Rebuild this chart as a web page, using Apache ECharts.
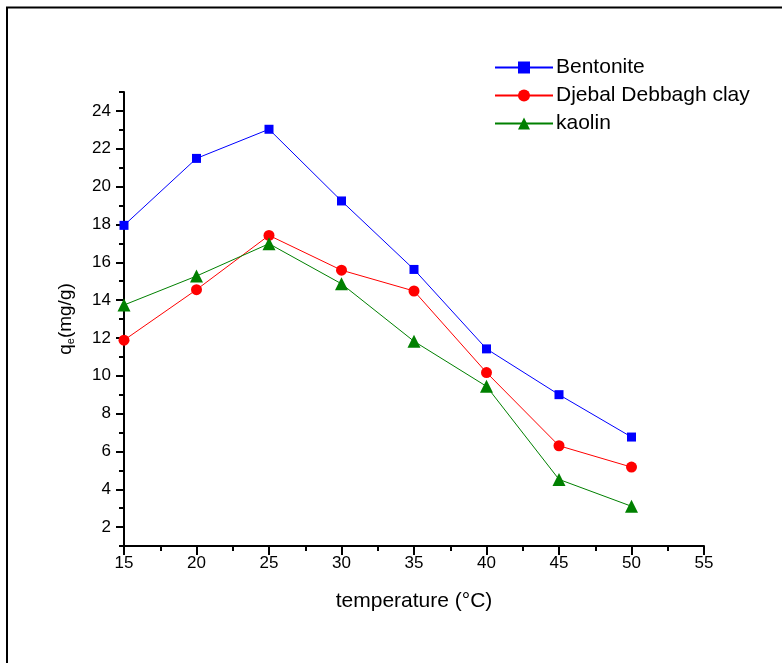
<!DOCTYPE html>
<html>
<head>
<meta charset="utf-8">
<script src="https://cdn.jsdelivr.net/npm/echarts@6/dist/echarts.min.js"></script>
<style>
  html, body { margin: 0; padding: 0; background: #fff; }
  #chartBox { width: 782px; height: 663px; }
</style>
</head>
<body>
<div id="chartBox"></div>
<script>
// temperature (°C)
const temperature = [15, 20, 25, 30, 35, 40, 45, 50]
// qe (mg/g)
const bentonite = [17.95, 21.49, 23.03, 19.24, 15.62, 11.42, 9.0, 6.76]
const djebal = [11.88, 14.55, 17.42, 15.58, 14.48, 10.17, 6.3, 5.17]
const kaolin = [13.74, 15.27, 16.98, 14.86, 11.82, 9.44, 4.52, 3.1]
// y tick labels (even) and minor ticks (odd)
const yMajor = [2, 4, 6, 8, 10, 12, 14, 16, 18, 20, 22, 24]
const yMinor = [1, 3, 5, 7, 9, 11, 13, 15, 17, 19, 21, 23, 25]

const font = 'Liberation Sans, Arial, sans-serif'
const pairs = arr => temperature.map((t, i) => [t, arr[i]])

let myChart = echarts.init(document.getElementById('chartBox'))
myChart.setOption({
  animation: false,
  backgroundColor: '#fff',
  graphic: [{
    type: 'rect',
    shape: { x: 7, y: 7.5, width: 900, height: 800 },
    style: { fill: 'none', stroke: '#000', lineWidth: 2 },
    silent: true
  }],
  grid: { left: 124, right: 78, top: 92, bottom: 117 },
  legend: {
    orient: 'vertical',
    left: 489,
    top: 52,
    itemWidth: 58,
    itemHeight: 15,
    itemGap: 7,
    textStyle: { fontFamily: font, fontSize: 21, color: '#000', padding: [0, 0, 0, -2] },
    data: ['Bentonite', 'Djebal Debbagh clay', 'kaolin']
  },
  xAxis: {
    type: 'value',
    min: 15,
    max: 55,
    interval: 5,
    name: 'temperature (°C)',
    nameLocation: 'middle',
    nameGap: 45,
    nameTextStyle: { fontFamily: font, fontSize: 21, color: '#000' },
    axisLine: { lineStyle: { color: '#000', width: 2 } },
    axisTick: { show: true, length: 9, lineStyle: { color: '#000', width: 2 } },
    minorTick: { show: true, splitNumber: 2, length: 5, lineStyle: { color: '#000', width: 2 } },
    axisLabel: { fontFamily: font, fontSize: 17, color: '#000', margin: 9 },
    splitLine: { show: false }
  },
  yAxis: [{
    type: 'value',
    min: 1,
    max: 25,
    name: 'q{sub|e}(mg/g)',
    nameLocation: 'middle',
    nameGap: 48,
    nameRotate: 90,
    nameTextStyle: {
      fontFamily: font, fontSize: 19, color: '#000',
      rich: { sub: { fontFamily: font, fontSize: 11, color: '#000', verticalAlign: 'bottom', padding: [9, 0, 0, 0] } }
    },
    axisLine: { show: true, lineStyle: { color: '#000', width: 2 } },
    axisTick: { show: true, length: 8, customValues: yMajor, lineStyle: { color: '#000', width: 2 } },
    axisLabel: { fontFamily: font, fontSize: 17, color: '#000', margin: 13, customValues: yMajor },
    splitLine: { show: false }
  }, {
    type: 'value',
    min: 1,
    max: 25,
    position: 'left',
    axisLine: { show: false },
    axisTick: { show: true, length: 5, customValues: yMinor, lineStyle: { color: '#000', width: 2 } },
    axisLabel: { show: false },
    splitLine: { show: false }
  }],
  series: [
    {
      name: 'Bentonite',
      type: 'line',
      data: pairs(bentonite),
      symbol: 'rect',
      symbolSize: 9,
      itemStyle: { color: '#0000ff' },
      lineStyle: { color: '#0000ff', width: 1 }
    },
    {
      name: 'Djebal Debbagh clay',
      type: 'line',
      data: pairs(djebal),
      symbol: 'circle',
      symbolSize: 11,
      itemStyle: { color: '#ff0000' },
      lineStyle: { color: '#ff0000', width: 1 }
    },
    {
      name: 'kaolin',
      type: 'line',
      data: pairs(kaolin),
      symbol: 'triangle',
      symbolSize: 13,
      itemStyle: { color: '#008000' },
      lineStyle: { color: '#008000', width: 1 }
    }
  ]
})
</script>
</body>
</html>
